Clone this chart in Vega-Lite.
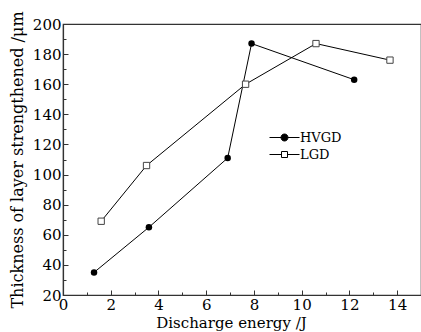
{
  "$schema": "https://vega.github.io/schema/vega-lite/v6.json",
  "width": 358,
  "height": 271,
  "autosize": {"type": "none"},
  "padding": {"left": 63, "top": 24, "right": 0, "bottom": 37},
  "background": "white",
  "config": {
    "view": {"stroke": "#333", "strokeWidth": 1.2},
    "font": "DejaVu Serif",
    "axis": {
      "domainColor": "#333",
      "domainWidth": 1.2,
      "tickColor": "#333",
      "labelColor": "black",
      "titleColor": "black",
      "labelFont": "DejaVu Serif",
      "titleFont": "DejaVu Serif",
      "labelFontSize": 15,
      "titleFontSize": 15,
      "titleFontWeight": "normal",
      "grid": false
    }
  },
  "data": {
    "values": [
      {"series": "HVGD", "energy": 1.3, "thickness": 35},
      {"series": "HVGD", "energy": 3.6, "thickness": 65},
      {"series": "HVGD", "energy": 6.9, "thickness": 111},
      {"series": "HVGD", "energy": 7.9, "thickness": 187},
      {"series": "HVGD", "energy": 12.2, "thickness": 163},
      {"series": "LGD", "energy": 1.6, "thickness": 69},
      {"series": "LGD", "energy": 3.5, "thickness": 106},
      {"series": "LGD", "energy": 7.65, "thickness": 160},
      {"series": "LGD", "energy": 10.6, "thickness": 187},
      {"series": "LGD", "energy": 13.7, "thickness": 176}
    ]
  },
  "encoding": {
    "x": {
      "field": "energy",
      "type": "quantitative",
      "scale": {"domain": [0, 15], "nice": false, "zero": false},
      "axis": {
        "title": "Discharge energy /J",
        "titleX": 168,
        "titleY": 20,
        "titleAlign": "center",
        "values": [0,1,2,3,4,5,6,7,8,9,10,11,12,13,14,15],
        "labelExpr": "datum.value % 2 === 0 && datum.value < 15 ? datum.label : ''",
        "tickSize": {"condition": {"test": "datum.value % 2 === 0", "value": -5}, "value": -3},
        "labelPadding": 7,
        "labelFlush": false,
        "labelOverlap": false
      }
    },
    "y": {
      "field": "thickness",
      "type": "quantitative",
      "scale": {"domain": [20, 200], "nice": false, "zero": false},
      "axis": {
        "title": "Thickness of layer strengthened /μm",
        "titleFontSize": 16,
        "values": [20,30,40,50,60,70,80,90,100,110,120,130,140,150,160,170,180,190,200],
        "labelExpr": "datum.value % 20 === 0 ? datum.label : ''",
        "tickSize": {"condition": {"test": "datum.value % 20 === 0", "value": -5}, "value": -3},
        "labelPadding": 7,
        "titlePadding": 7,
        "labelFlush": false,
        "labelOverlap": false
      }
    }
  },
  "layer": [
    {
      "mark": {"type": "line", "strokeWidth": 1},
      "encoding": {
        "color": {
          "field": "series",
          "type": "nominal",
          "scale": {"domain": ["HVGD", "LGD"], "range": ["black", "black"]},
          "legend": {
            "title": null,
            "orient": "none",
            "legendX": 215,
            "legendY": 107,
            "padding": 0,
            "symbolSize": 100,
            "symbolStrokeWidth": 1,
            "rowPadding": 3,
            "labelOffset": 9,
            "labelFont": "DejaVu Serif",
            "labelFontSize": 13,
            "labelColor": "black",
            "encode": {
              "symbols": {
                "update": {
                  "shape": {"signal": "datum.value === 'HVGD' ? 'M-3,0H-0.7M0.7,0H3M-0.7,0A0.7,0.7 0 1,1 0.7,0A0.7,0.7 0 1,1 -0.7,0Z' : 'M-3,0H-0.6M0.6,0H3M-0.6,-0.6H0.6V0.6H-0.6Z'"},
                  "fill": {"signal": "datum.value === 'HVGD' ? 'black' : 'white'"},
                  "stroke": {"value": "black"},
                  "strokeWidth": {"value": 1}
                }
              }
            }
          }
        }
      }
    },
    {
      "transform": [{"filter": "datum.series === 'HVGD'"}],
      "mark": {"type": "point", "shape": "circle", "filled": true, "color": "black", "size": 42, "opacity": 1}
    },
    {
      "transform": [{"filter": "datum.series === 'LGD'"}],
      "mark": {"type": "point", "shape": "square", "filled": false, "fill": "white", "stroke": "#444", "strokeWidth": 1, "size": 40, "opacity": 1}
    }
  ]
}
